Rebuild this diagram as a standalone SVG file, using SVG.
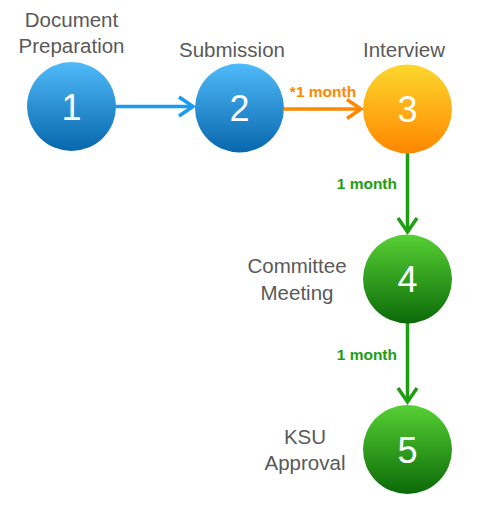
<svg xmlns="http://www.w3.org/2000/svg" width="478" height="515" viewBox="0 0 478 515">
<defs>
<linearGradient id="gBlue" x1="0" y1="0" x2="0" y2="1">
<stop offset="0" stop-color="#4fbaf9"/>
<stop offset="1" stop-color="#0867ad"/>
</linearGradient>
<linearGradient id="gOrange" x1="0" y1="0" x2="0" y2="1">
<stop offset="0" stop-color="#fcd82c"/>
<stop offset="1" stop-color="#ff8600"/>
</linearGradient>
<linearGradient id="gGreen" x1="0" y1="0" x2="0" y2="1">
<stop offset="0" stop-color="#57d034"/>
<stop offset="1" stop-color="#0b6a08"/>
</linearGradient>
</defs>
<style>
.lbl{font-family:"Liberation Sans",Arial,sans-serif;font-size:20.5px;fill:#5a5a5a;text-anchor:middle;}
.num{font-family:"Liberation Sans",Arial,sans-serif;font-size:36px;fill:#ffffff;text-anchor:middle;}
.dur{font-family:"Liberation Sans",Arial,sans-serif;font-size:15.5px;font-weight:bold;}
.ln{fill:none;stroke-width:3.5;stroke-linecap:butt;stroke-linejoin:miter;}
</style>
<g id="connectors">
<g id="c12">
<line class="ln" x1="116" y1="106.5" x2="192" y2="106.5" stroke="#1a9bf2"/>
<polyline class="ln" points="179,97 193,106.5 179,116" stroke="#1a9bf2"/>
</g>
<g id="c23">
<line class="ln" x1="284" y1="109" x2="361" y2="109" stroke="#ff8800"/>
<polyline class="ln" points="347,99.5 361,109 347,118.5" stroke="#ff8800"/>
<text class="dur" x="323" y="97" fill="#ff8800" text-anchor="middle">*1 month</text>
</g>
<g id="c34">
<line class="ln" x1="407.5" y1="153" x2="407.5" y2="232" stroke="#1e9e12"/>
<polyline class="ln" points="398,218 407.5,232 417,218" stroke="#1e9e12"/>
<text class="dur" x="397" y="189" fill="#1e9e12" text-anchor="end">1 month</text>
</g>
<g id="c45">
<line class="ln" x1="407.5" y1="323" x2="407.5" y2="402" stroke="#1e9e12"/>
<polyline class="ln" points="398,388 407.5,402 417,388" stroke="#1e9e12"/>
<text class="dur" x="397" y="360" fill="#1e9e12" text-anchor="end">1 month</text>
</g>
</g>
<g id="n1">
<circle cx="71.5" cy="106.5" r="44.5" fill="url(#gBlue)"/>
<text class="num" x="71.5" y="119.5">1</text>
<text class="lbl" x="71.5" y="27">Document</text>
<text class="lbl" x="71.5" y="53">Preparation</text>
</g>
<g id="n2">
<circle cx="239.5" cy="108" r="44.5" fill="url(#gBlue)"/>
<text class="num" x="239.5" y="121">2</text>
<text class="lbl" x="232" y="57">Submission</text>
</g>
<g id="n3">
<circle cx="407.5" cy="109" r="44.5" fill="url(#gOrange)"/>
<text class="num" x="407.5" y="122">3</text>
<text class="lbl" x="404" y="57">Interview</text>
</g>
<g id="n4">
<circle cx="407.5" cy="279" r="44.5" fill="url(#gGreen)"/>
<text class="num" x="407.5" y="292">4</text>
<text class="lbl" x="297" y="273">Committee</text>
<text class="lbl" x="297" y="300">Meeting</text>
</g>
<g id="n5">
<circle cx="407.5" cy="449.5" r="44.5" fill="url(#gGreen)"/>
<text class="num" x="407.5" y="462.5">5</text>
<text class="lbl" x="305" y="444">KSU</text>
<text class="lbl" x="305" y="470">Approval</text>
</g>
</svg>
